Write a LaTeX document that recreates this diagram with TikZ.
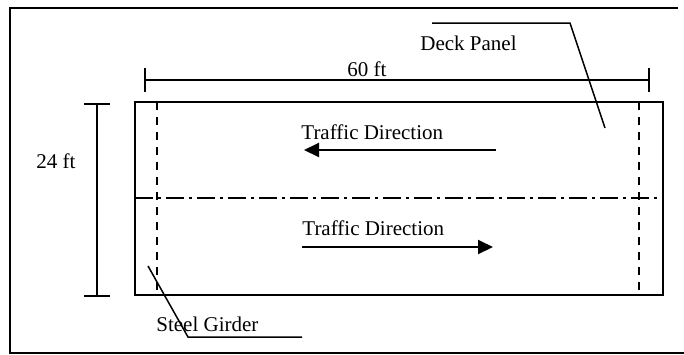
\documentclass[tikz,border=0pt]{standalone}
\usepackage{fontspec}
\setmainfont{Liberation Serif}
\usetikzlibrary{arrows.meta}

\begin{document}
\begin{tikzpicture}[
		lbl/.style={inner sep=0pt, font=\fontsize{10.5}{12}\selectfont},
		ln/.style={line width=0.75pt},
		girder/.style={ln, dash pattern=on 4pt off 3.5pt},
		centreline/.style={ln, dash pattern=on 9pt off 2.5pt on 1.5pt off 2.5pt},
		traffic/.style={line width=1pt, -{Triangle[length=7.5pt, width=7pt]}}
	]
				\begin{scope}[x=0.5pt, y=-0.5pt]
					\useasboundingbox (0,0) rectangle (684,354);
					
					% deck outline
					\coordinate (1) at (135,102);
					\coordinate (2) at (663,102);
					\coordinate (3) at (663,295);
					\coordinate (4) at (135,295);
					% girders and centre line
					\coordinate (5) at (157,102);
					\coordinate (6) at (157,295);
					\coordinate (7) at (639,102);
					\coordinate (8) at (639,295);
					\coordinate (9) at (135,198);
					\coordinate (10) at (663,198);
					% dimension lines
					\coordinate (11) at (145,80);
					\coordinate (12) at (649,80);
					\coordinate (13) at (97,104);
					\coordinate (14) at (97,296);
					% traffic arrows
					\coordinate (15) at (496,150);
					\coordinate (16) at (304,150);
					\coordinate (17) at (302,247);
					\coordinate (18) at (493,247);
					% leaders
					\coordinate (19) at (432,23);
					\coordinate (20) at (570,23);
					\coordinate (21) at (605,128);
					\coordinate (22) at (148,266);
					\coordinate (23) at (188,337);
					\coordinate (24) at (302,337);
					
					\draw[line width=1pt] (678,7.5) -- (10,7.5) -- (10,352.5) -- (684,352.5);
					
					\draw[ln] (1) -- (2) -- (3) -- (4) -- cycle;
					\draw[girder] (5) -- (6);
					\draw[girder] (7) -- (8);
					\draw[centreline] (9) -- (10);
					
					
					\draw[ln] (11) -- (12);
					\draw[ln] (11) ++(0,-12) -- ++(0,24);
					\draw[ln] (12) ++(0,-12) -- ++(0,24);
					\node[lbl, anchor=base west] (len) at (347,76) {60 ft};
					
					\draw[ln] (13) -- (14);
					\draw[ln] (13) ++(-13,0) -- ++(26,0);
					\draw[ln] (14) ++(-13,0) -- ++(26,0);
					\node[lbl, anchor=base west] (wid) at (36,168) {24 ft};
					
					
					\node[lbl, anchor=base west] (dirtop) at (301,139) {Traffic Direction};
					\draw[traffic] (15) -- (16);
					
					\node[lbl, anchor=base west] (dirbot) at (302,235) {Traffic Direction};
					\draw[traffic] (17) -- (18);
					
					
					\node[lbl, anchor=base west] (deck) at (420,50) {Deck Panel};
					\draw[ln] (19) -- (20) -- (21);
					
					\node[lbl, anchor=base west] (steel) at (156,331) {Steel Girder};
					\draw[ln] (22) -- (23) -- (24);
					
				\end{scope}
			\end{tikzpicture}
\end{document}
